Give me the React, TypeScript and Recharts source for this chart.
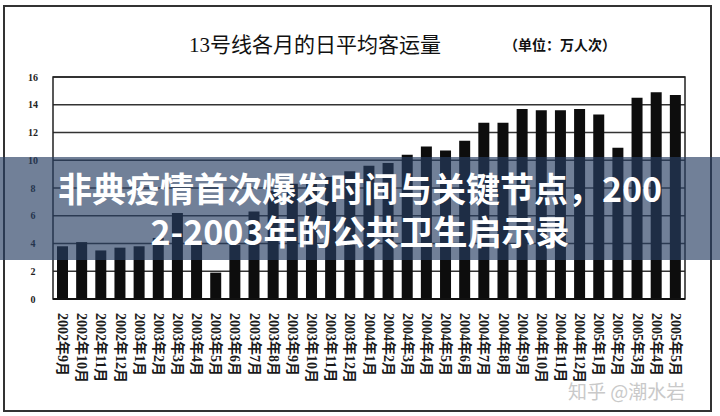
import { BarChart, Bar, XAxis, YAxis, CartesianGrid, ReferenceArea } from 'recharts';

const months = [
  '2002年9月', '2002年10月', '2002年11月', '2002年12月',
  '2003年1月', '2003年2月', '2003年3月', '2003年4月', '2003年5月', '2003年6月',
  '2003年7月', '2003年8月', '2003年9月', '2003年10月', '2003年11月', '2003年12月',
  '2004年1月', '2004年2月', '2004年3月', '2004年4月', '2004年5月', '2004年6月',
  '2004年7月', '2004年8月', '2004年9月', '2004年10月', '2004年11月', '2004年12月',
  '2005年1月', '2005年2月', '2005年3月', '2005年4月', '2005年5月',
];

const riders = [
  3.8, 4.1, 3.5, 3.7,
  3.8, 4.4, 6.2, 4.1, 1.9, 3.9,
  6.3, 7.8, 8.3, 8.6, 8.8, 9.2,
  9.6, 9.8, 10.4, 11.0, 10.7, 11.4,
  12.7, 12.7, 13.7, 13.6, 13.6, 13.7,
  13.3, 10.9, 14.5, 14.9, 14.7,
];

const yTicks = [0, 2, 4, 6, 8, 10, 12, 14, 16];

const data = months.map((m, i) => ({ month: m, value: riders[i] }));

const serif = '"Liberation Serif", "DejaVu Serif", "Noto Sans CJK SC", serif';
const cjk = '"Noto Sans CJK SC", "Noto Sans", sans-serif';

const MonthTick = (props: any) => {
  const { x, y, payload } = props;
  return (
    <text
      x={x}
      y={y + 6}
      transform={`rotate(90, ${x}, ${y + 6})`}
      textAnchor="start"
      dominantBaseline="central"
      fontSize={14}
      fontWeight={700}
      fontFamily={serif}
      fill="#1a1a1a"
    >
      {payload.value}
    </text>
  );
};

const ValueTick = (props: any) => {
  const { y, payload } = props;
  return (
    <text x={33} y={y} textAnchor="middle" dominantBaseline="central" fontSize={10} fontWeight={700} fontFamily={serif} fill="#222">
      {payload.value}
    </text>
  );
};

export default function App() {
  return (
    <div style={{ position: 'absolute', left: 0, top: 0, width: 720, height: 416, background: '#fff', overflow: 'hidden' }}>
      <div style={{ position: 'absolute', left: 3, top: 5, width: 709, height: 407, border: '2px solid #333', boxSizing: 'border-box' }} />
      <div style={{ position: 'absolute', left: 189, top: 28, fontFamily: serif, fontSize: 21, color: '#111', whiteSpace: 'nowrap' }}>
        13号线各月的日平均客运量
      </div>
      <div style={{ position: 'absolute', left: 504, top: 34, fontFamily: cjk, fontSize: 14, fontWeight: 700, color: '#111', whiteSpace: 'nowrap' }}>
        （单位：万人次）
      </div>
      <BarChart width={720} height={416} data={data} margin={{ top: 77, right: 35, left: 28, bottom: 0 }}>
        <CartesianGrid vertical={false} stroke="#333" strokeWidth={1.4} />
        <XAxis dataKey="month" interval={0} height={117} tick={<MonthTick />} tickLine={false} axisLine={{ stroke: '#111', strokeWidth: 2 }} />
        <YAxis domain={[0, 16]} ticks={yTicks} width={25} tick={<ValueTick />} tickLine={false} axisLine={false} />
        <ReferenceArea y1={0} y2={16} fill="none" stroke="#222" strokeWidth={1.5} fillOpacity={0} />
        <Bar dataKey="value" fill="#0d0d0d" barSize={11} isAnimationActive={false} />
      </BarChart>
      <div
        style={{
          position: 'absolute', left: 0, top: 157, width: 720, height: 103,
          background: 'rgba(40, 62, 98, 0.66)', color: '#fff', fontFamily: cjk,
          fontWeight: 700, fontSize: 34, lineHeight: '43px', textAlign: 'center', paddingTop: 9,
          boxSizing: 'border-box', whiteSpace: 'nowrap',
        }}
      >
        <div>非典疫情首次爆发时间与关键节点，200</div>
        <div>2-2003年的公共卫生启示录</div>
      </div>
      <div style={{ position: 'absolute', left: 568, top: 377, fontFamily: cjk, fontSize: 19, color: '#c9c9c9', whiteSpace: 'nowrap' }}>
        知乎 @潮水岩
      </div>
    </div>
  );
}
